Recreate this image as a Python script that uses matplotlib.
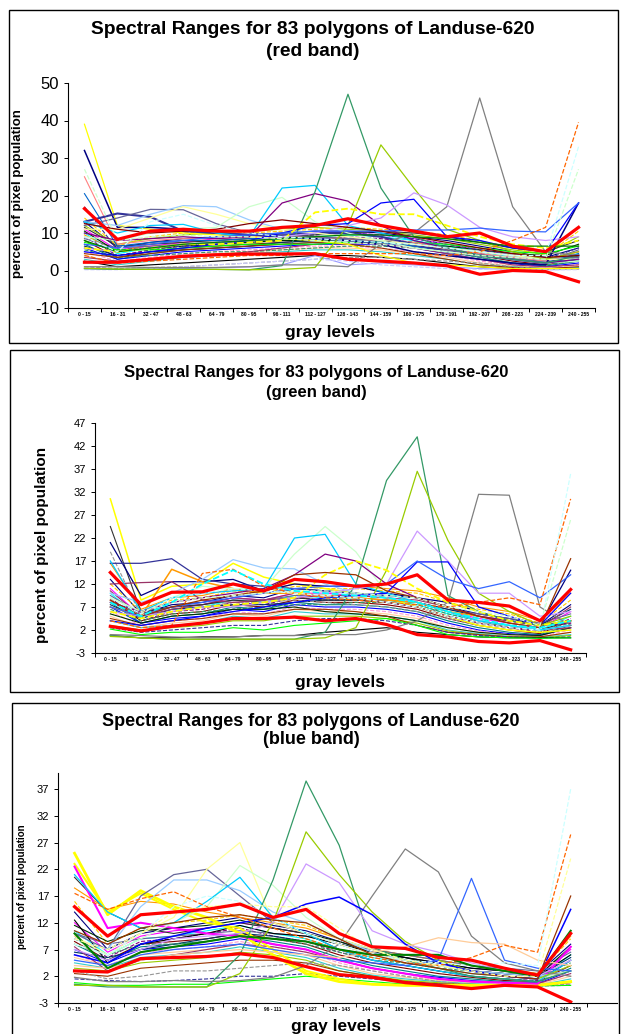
import matplotlib
matplotlib.use("Agg")
import matplotlib.pyplot as plt
from matplotlib.patches import Rectangle
import numpy as np

plt.rcParams['font.family'] = ['Liberation Sans', 'DejaVu Sans']
plt.rcParams['axes.unicode_minus'] = False

W, H = 622, 1034

categories = ["0 - 15", "16 - 31", "32 - 47", "48 - 63", "64 - 79", "80 - 95", "96 - 111",
              "112 - 127", "128 - 143", "144 - 159", "160 - 175", "176 - 191", "192 - 207",
              "208 - 223", "224 - 239", "240 - 255"]

# ---------------- red band ----------------
red_upper = [16.5, 8.3, 10.5, 11.0, 10.5, 10.5, 11.5, 12.0, 13.8, 12.0, 10.5, 9.0, 10.0, 6.5, 5.0, 11.5]
red_lower = [2.2, 2.2, 3.0, 3.8, 4.2, 4.4, 4.4, 4.5, 3.0, 2.5, 2.0, 1.3, -1.0, 0.0, -0.3, -3.0]
red_hl = [
    [39.0, 12.0, 11.0, 10.0, 9.5, 9.0, 8.5, 8.0, 7.0, 4.0, 2.0, 1.5, 1.0, 0.5, 0.5, 0.5],     # yellow
    [32.0, 11.5, 11.5, 11.0, 10.0, 9.5, 9.0, 8.5, 8.0, 7.0, 5.0, 4.0, 3.0, 2.0, 1.5, 18.0],   # navy
    [13.0, 15.2, 14.3, 10.5, 10.0, 9.5, 9.5, 10.0, 10.0, 9.0, 7.0, 5.0, 4.0, 3.0, 2.0, 4.0],   # dark slate
    [12.0, 14.0, 16.3, 16.2, 12.5, 10.0, 9.5, 9.0, 8.5, 8.0, 7.0, 6.0, 5.0, 4.0, 3.0, 3.5],   # blue gray
    [13.0, 12.0, 15.0, 17.3, 17.0, 13.5, 11.0, 10.0, 9.0, 8.0, 7.0, 6.0, 5.0, 4.0, 3.0, 3.0], # pale blue
    [11.0, 11.0, 14.0, 17.0, 15.0, 12.5, 11.0, 10.0, 9.0, 8.0, 7.0, 6.0, 5.0, 4.0, 3.0, 3.0], # light yellow
    [9.0, 8.0, 10.0, 11.0, 11.5, 17.0, 19.5, 13.0, 10.0, 8.0, 6.0, 5.0, 4.0, 3.0, 2.0, 2.5],  # light green
    [13.0, 10.0, 12.0, 12.3, 10.0, 9.0, 22.0, 22.7, 12.0, 10.0, 8.0, 6.0, 4.0, 3.0, 2.0, 3.0],# sky
    [10.0, 8.0, 8.5, 9.0, 8.5, 9.0, 18.0, 20.5, 18.5, 12.0, 8.0, 6.0, 4.0, 3.0, 2.0, 3.0],    # purple
    [0.5, 0.3, 0.3, 0.3, 0.3, 0.2, 1.3, 21.0, 47.0, 22.0, 9.0, 6.0, 4.0, 3.0, 2.0, 4.0],      # sea green
    [0.6, 0.4, 0.3, 0.3, 0.3, 0.2, 0.3, 0.8, 12.0, 33.5, 22.0, 11.0, 8.0, 5.0, 3.0, 5.0],     # lime
    [1.0, 1.0, 0.8, 0.8, 0.8, 1.0, 1.5, 1.5, 1.0, 7.0, 10.0, 17.0, 46.0, 17.0, 5.0, 4.0],     # gray
    [6.0, 5.0, 6.0, 7.0, 7.5, 8.0, 9.0, 10.0, 12.0, 14.0, 20.7, 17.5, 11.5, 9.0, 8.0, 9.0],   # lavender
    [5.0, 4.0, 5.0, 6.0, 7.0, 8.0, 10.0, 12.0, 12.5, 18.0, 19.0, 9.0, 8.0, 6.0, 5.0, 18.0],   # blue
    [7.0, 6.0, 7.0, 8.0, 9.0, 9.5, 10.0, 10.5, 10.5, 10.5, 10.8, 10.8, 11.3, 10.5, 10.3, 18.0],# royal blue
    [4.0, 2.0, 2.5, 3.0, 3.5, 4.0, 4.0, 4.5, 4.5, 4.5, 4.5, 4.0, 5.0, 8.0, 11.5, 39.5],      # orange dashed
    [6.0, 5.0, 6.0, 7.0, 7.0, 7.5, 8.0, 15.5, 16.5, 15.0, 15.0, 12.0, 9.0, 7.0, 6.0, 8.0],   # yellow dashed
    [12.5, 11.0, 10.0, 10.5, 11.0, 12.5, 13.5, 12.5, 11.5, 10.5, 9.0, 7.5, 6.0, 4.5, 3.5, 4.0],# maroon
    [8.0, 5.0, 6.0, 7.0, 7.5, 8.0, 8.5, 9.0, 9.5, 9.5, 9.0, 8.5, 7.5, 6.5, 6.5, 6.5],        # dark green
    [9.0, 5.0, 13.0, 15.0, 12.0, 10.0, 9.0, 8.5, 8.0, 7.5, 7.0, 6.0, 5.0, 4.0, 4.0, 33.0],    # light cyan dashed
    [27.0, 8.0, 9.0, 9.5, 9.0, 9.0, 8.5, 8.0, 7.5, 7.0, 6.0, 5.0, 4.0, 3.5, 3.0, 27.0],      # light green dashed
]
red_bulk = [
    [13.0, 6.0, 7.5, 8.5, 9.0, 9.5, 10.0, 10.5, 10.5, 10.0, 9.0, 8.0, 6.5, 5.0, 3.5, 6.0],
    [11.0, 5.5, 6.5, 7.5, 8.5, 9.0, 9.5, 10.0, 10.0, 9.5, 8.5, 7.0, 5.5, 4.0, 3.0, 5.0],
    [10.0, 4.5, 6.0, 7.0, 7.5, 8.0, 8.5, 9.0, 9.5, 9.0, 8.0, 6.5, 5.0, 3.5, 2.5, 4.5],
    [9.0, 4.0, 5.5, 6.5, 7.0, 7.5, 8.0, 8.5, 9.0, 8.5, 7.5, 6.0, 4.5, 3.0, 2.0, 4.0],
    [8.0, 3.5, 5.0, 6.0, 6.5, 7.0, 7.5, 8.0, 8.5, 8.0, 7.0, 5.5, 4.0, 2.5, 1.5, 3.0],
    [7.0, 3.0, 4.5, 5.5, 6.0, 6.5, 7.0, 7.5, 8.0, 7.5, 6.5, 5.0, 3.5, 2.0, 1.2, 2.5],
    [6.0, 3.0, 4.0, 5.0, 5.5, 6.0, 6.5, 7.0, 7.0, 7.0, 6.0, 4.5, 3.0, 1.8, 1.0, 2.0],
    [5.0, 2.5, 3.5, 4.5, 5.0, 5.5, 6.0, 6.5, 6.5, 6.0, 5.0, 4.0, 2.5, 1.5, 0.8, 1.5],
    [4.0, 2.0, 3.0, 4.0, 4.5, 5.0, 5.5, 6.0, 6.0, 5.5, 4.5, 3.5, 2.0, 1.2, 0.6, 1.0],
    [3.0, 1.5, 2.5, 3.5, 4.0, 4.5, 5.0, 5.5, 5.5, 5.0, 4.0, 3.0, 1.5, 1.0, 0.5, 0.8],
    [12.0, 7.0, 8.5, 9.5, 10.0, 10.5, 11.0, 11.5, 11.0, 10.5, 9.5, 8.5, 7.0, 5.5, 4.5, 9.0],
    [14.0, 6.5, 9.0, 10.0, 10.5, 10.0, 10.5, 11.0, 11.5, 11.0, 10.5, 9.5, 8.0, 6.0, 4.0, 10.5],
    [9.5, 5.0, 7.0, 8.0, 8.0, 8.5, 9.0, 9.0, 8.5, 8.0, 7.0, 6.0, 5.0, 4.0, 3.0, 3.5],
    [8.5, 6.0, 6.5, 7.0, 7.5, 8.0, 8.0, 8.5, 8.0, 7.5, 6.5, 5.5, 4.0, 3.0, 2.5, 5.5],
    [6.5, 4.0, 5.0, 5.5, 6.0, 6.5, 7.5, 8.0, 8.5, 8.0, 7.0, 6.0, 4.5, 3.0, 2.0, 3.5],
    [5.5, 3.5, 4.0, 4.5, 5.0, 5.0, 5.5, 6.0, 6.5, 6.5, 6.0, 5.0, 3.5, 2.0, 1.5, 2.5],
    [10.5, 5.0, 6.0, 6.5, 7.0, 7.5, 8.0, 8.0, 8.0, 7.5, 7.0, 6.5, 5.5, 4.5, 4.0, 7.0],
    [4.5, 3.5, 4.5, 5.5, 6.0, 6.5, 7.0, 7.5, 7.0, 6.0, 4.5, 3.0, 1.5, 0.8, 0.5, 1.0],
    [3.5, 2.5, 3.0, 3.5, 4.0, 5.0, 6.0, 7.0, 7.5, 7.0, 6.0, 4.5, 3.0, 1.5, 1.0, 1.5],
    [17.0, 5.5, 6.0, 6.5, 7.5, 8.0, 9.0, 9.5, 10.0, 9.5, 8.5, 7.0, 5.5, 4.0, 3.0, 6.0],
    [11.5, 6.5, 7.0, 7.5, 8.0, 8.5, 9.0, 9.5, 10.0, 10.5, 10.0, 9.0, 7.5, 6.0, 5.0, 8.0],
    [2.5, 1.0, 1.5, 2.0, 2.5, 3.0, 3.5, 4.0, 4.0, 3.5, 3.0, 2.0, 1.0, 0.5, 0.3, 0.5],
    [7.5, 5.5, 5.5, 6.0, 6.5, 7.0, 7.0, 7.0, 7.5, 7.5, 7.5, 7.0, 6.0, 5.0, 4.5, 6.5],
    [1.0, 0.5, 0.8, 1.0, 1.5, 2.0, 2.5, 3.0, 3.5, 3.5, 3.0, 2.5, 2.0, 1.0, 0.5, 0.3],
    [0.5, 0.3, 0.5, 0.5, 0.8, 1.0, 1.5, 4.0, 1.5, 2.0, 1.5, 1.0, 0.5, 0.3, 0.2, 0.3],
    [25.0, 7.0, 8.0, 8.5, 8.5, 9.0, 9.0, 9.0, 8.5, 8.0, 7.5, 6.0, 4.5, 3.5, 2.5, 5.0],
    [20.5, 6.5, 7.5, 8.0, 8.0, 8.5, 8.5, 8.5, 8.0, 7.5, 6.5, 5.0, 4.0, 3.0, 2.0, 4.5],
    [0.2, 0.2, 0.5, 1.0, 1.5, 2.0, 2.5, 3.0, 2.5, 1.5, 1.0, 0.5, 0.3, 0.2, 0.2, 0.2],
]

# ---------------- green band ----------------
green_upper = [14.5, 7.5, 10.2, 10.3, 12.0, 10.5, 13.0, 12.5, 11.5, 12.0, 14.0, 8.5, 8.0, 7.2, 4.0, 10.8]
green_lower = [2.8, 1.8, 2.8, 3.5, 4.5, 4.5, 4.8, 4.0, 4.5, 3.2, 1.0, 0.5, -0.5, -0.8, -0.3, -2.3]
green_hl = [
    [30.5, 8.5, 11.5, 12.0, 16.5, 13.5, 12.0, 11.0, 10.0, 9.0, 7.0, 5.0, 3.0, 2.0, 1.5, 2.0],   # yellow
    [21.0, 9.5, 12.5, 12.5, 13.0, 10.5, 12.0, 11.5, 11.5, 10.0, 9.0, 8.0, 6.0, 4.0, 3.0, 15.0], # navy
    [16.5, 16.5, 17.5, 13.0, 12.0, 11.5, 11.0, 10.5, 10.0, 9.0, 8.0, 6.0, 4.0, 3.0, 2.0, 3.0],  # blue gray
    [12.0, 12.3, 12.5, 8.5, 8.0, 8.5, 9.0, 9.5, 9.0, 8.0, 7.0, 5.0, 3.5, 2.5, 2.0, 2.5],       # plum
    [10.0, 8.0, 10.0, 13.0, 17.3, 15.5, 15.3, 12.0, 10.0, 9.0, 8.0, 6.0, 4.0, 3.0, 2.0, 3.0],  # pale blue
    [7.0, 5.0, 15.2, 12.5, 11.0, 10.0, 10.0, 9.5, 9.0, 8.5, 8.0, 6.0, 5.0, 4.0, 3.0, 4.0],     # orange
    [9.0, 6.0, 9.0, 11.5, 11.0, 11.0, 18.5, 24.5, 19.0, 10.0, 8.0, 6.0, 4.0, 3.0, 2.0, 3.0],   # purple
    [17.0, 6.0, 9.0, 10.0, 10.5, 11.0, 22.0, 22.8, 12.0, 10.0, 8.0, 6.0, 4.0, 3.0, 2.0, 3.0],  # sky
    [8.0, 6.0, 8.0, 9.0, 10.0, 11.0, 14.0, 18.5, 17.0, 12.0, 9.0, 7.0, 5.0, 4.0, 3.0, 3.5],    # light green
    [0.8, 0.3, 0.0, 0.0, 0.0, 0.0, 0.0, 1.5, 12.0, 34.5, 44.0, 9.5, 6.0, 4.0, 3.0, 4.0],       # sea green
    [0.6, 0.3, 0.0, 0.0, 0.0, 0.0, 0.0, 0.3, 2.5, 15.0, 36.5, 21.5, 10.0, 6.0, 3.0, 5.0],      # lime
    [1.0, 0.8, 0.5, 0.3, 0.5, 0.8, 0.8, 1.0, 1.0, 2.0, 4.0, 8.0, 31.5, 31.3, 7.0, 3.0],        # gray
    [6.0, 5.0, 6.0, 7.0, 7.0, 8.0, 9.0, 10.0, 11.0, 12.0, 23.5, 17.0, 10.0, 10.0, 5.0, 6.0],   # lavender
    [4.0, 3.0, 4.0, 5.0, 6.0, 7.0, 8.0, 9.0, 9.5, 10.0, 16.8, 16.8, 7.0, 5.0, 3.0, 10.0],      # blue
    [7.0, 5.0, 7.0, 8.0, 9.0, 10.0, 11.0, 11.5, 11.5, 12.0, 17.0, 13.0, 11.0, 12.5, 9.0, 14.0],# royal blue
    [4.0, 2.5, 3.0, 14.3, 15.2, 11.5, 10.0, 9.0, 8.5, 8.0, 7.5, 7.0, 8.0, 9.0, 7.5, 30.5],     # orange dashed
    [9.0, 5.5, 9.0, 10.0, 11.0, 10.5, 10.0, 9.5, 9.0, 8.0, 7.0, 5.0, 3.5, 2.5, 2.0, 36.0],     # light cyan dashed
    [6.0, 4.5, 6.0, 7.0, 7.5, 8.0, 9.0, 14.0, 17.0, 15.0, 11.0, 8.0, 6.0, 4.0, 3.0, 4.0],      # yellow dashed
    [8.5, 5.0, 7.0, 8.5, 9.5, 10.5, 14.0, 14.5, 14.0, 10.5, 9.0, 7.0, 5.0, 3.5, 2.5, 17.5],    # maroon
    [9.0, 6.0, 8.0, 9.0, 9.5, 10.0, 10.5, 10.5, 10.0, 9.5, 9.0, 7.0, 6.0, 5.0, 3.0, 26.0],     # light green dashed
    [8.0, 5.0, 8.0, 12.0, 15.0, 12.0, 10.5, 10.0, 9.5, 9.0, 8.0, 6.0, 4.5, 3.0, 2.5, 4.0],     # cyan dashed
]
green_bulk = [
    [13.0, 5.5, 7.5, 8.0, 9.5, 9.0, 11.0, 10.5, 10.0, 9.5, 9.0, 7.0, 5.5, 4.5, 3.0, 7.5],
    [11.0, 5.0, 7.0, 7.5, 9.0, 8.5, 10.0, 10.0, 9.5, 9.0, 8.0, 6.0, 4.5, 3.5, 2.5, 6.0],
    [10.0, 4.5, 6.5, 7.0, 8.5, 8.0, 9.5, 9.0, 9.0, 8.5, 7.5, 5.5, 4.0, 3.0, 2.0, 5.0],
    [9.0, 4.0, 6.0, 6.5, 8.0, 7.5, 9.0, 8.5, 8.5, 8.0, 7.0, 5.0, 3.5, 2.5, 1.5, 4.5],
    [8.5, 4.0, 5.5, 6.0, 7.5, 7.0, 8.5, 8.0, 8.0, 7.5, 6.5, 4.5, 3.0, 2.0, 1.2, 4.0],
    [8.0, 3.5, 5.0, 5.5, 7.0, 6.5, 8.0, 7.5, 7.5, 7.0, 6.0, 4.0, 2.5, 1.5, 1.0, 3.0],
    [7.0, 3.5, 4.5, 5.0, 6.5, 6.0, 7.5, 7.0, 7.0, 6.5, 5.5, 3.5, 2.0, 1.2, 0.8, 2.5],
    [6.0, 3.0, 4.0, 4.5, 6.0, 5.5, 7.0, 6.5, 6.5, 6.0, 5.0, 3.0, 1.8, 1.0, 0.6, 2.0],
    [5.0, 2.5, 3.5, 4.0, 5.5, 5.0, 6.5, 6.0, 6.0, 5.5, 4.5, 2.5, 1.5, 0.8, 0.5, 1.5],
    [4.0, 2.5, 3.0, 3.5, 5.0, 4.5, 6.0, 5.5, 5.5, 5.0, 4.0, 2.0, 1.2, 0.6, 0.4, 1.0],
    [3.0, 2.0, 2.5, 3.0, 4.0, 4.0, 5.0, 5.0, 5.0, 4.5, 3.5, 1.8, 1.0, 0.5, 0.3, 0.8],
    [12.0, 6.0, 8.5, 9.0, 10.5, 10.0, 11.5, 11.0, 11.0, 10.5, 10.0, 8.0, 6.5, 5.5, 3.5, 8.5],
    [16.5, 6.5, 9.0, 9.5, 11.0, 10.5, 12.0, 11.5, 11.5, 11.0, 10.5, 9.0, 7.0, 6.0, 4.0, 10.0],
    [9.5, 5.5, 7.0, 7.5, 8.5, 8.5, 9.5, 9.5, 9.0, 8.5, 8.0, 6.5, 5.5, 4.5, 3.5, 5.5],
    [7.5, 4.5, 6.5, 7.0, 7.5, 7.5, 8.0, 8.5, 8.5, 8.5, 8.0, 6.5, 5.0, 4.0, 3.0, 6.5],
    [6.5, 4.0, 5.5, 6.0, 6.5, 7.0, 7.5, 7.5, 8.0, 8.0, 7.5, 5.5, 4.0, 2.5, 2.0, 3.5],
    [5.5, 3.5, 5.0, 5.5, 6.5, 6.5, 7.0, 6.0, 5.5, 5.0, 4.0, 2.5, 1.5, 1.0, 0.8, 2.5],
    [4.5, 3.0, 4.0, 4.5, 5.5, 5.5, 6.5, 6.5, 6.0, 5.0, 3.0, 1.5, 1.0, 0.5, 0.5, 1.5],
    [10.5, 5.0, 6.5, 7.5, 9.0, 8.5, 10.0, 9.5, 9.5, 9.0, 8.5, 7.0, 5.0, 3.5, 2.5, 7.0],
    [2.5, 1.5, 2.0, 2.5, 3.0, 3.0, 4.0, 4.5, 4.5, 4.0, 3.0, 1.5, 0.8, 0.5, 0.3, 0.5],
    [24.5, 6.0, 7.0, 7.5, 8.5, 8.0, 9.0, 8.5, 8.5, 8.0, 7.0, 5.0, 3.5, 2.5, 2.0, 4.0],
    [0.8, 0.3, 0.3, 0.5, 0.5, 0.8, 0.8, 1.5, 2.0, 2.5, 1.5, 1.0, 0.5, 0.3, 0.3, 0.3],
    [2.2, 1.0, 1.5, 1.5, 2.5, 2.0, 3.0, 3.5, 4.0, 4.5, 3.0, 1.0, 0.5, 0.3, 0.2, 0.3],
    [19.0, 5.0, 6.0, 7.0, 8.0, 8.0, 8.5, 8.0, 7.5, 7.0, 6.0, 4.5, 3.0, 2.0, 1.5, 3.0],
]

# ---------------- blue band ----------------
blue_upper = [15.0, 9.5, 13.5, 14.0, 14.5, 15.5, 13.0, 14.5, 10.0, 7.5, 7.2, 5.5, 5.0, 3.5, 2.2, 10.0]
blue_lower = [3.0, 2.8, 5.3, 5.5, 5.7, 6.2, 5.5, 3.8, 2.3, 1.8, 0.8, 0.3, -0.3, 0.3, 0.0, -2.8]
blue_hl = [
    [25.0, 13.5, 18.0, 15.0, 13.0, 10.0, 6.0, 2.5, 1.0, 0.5, 0.3, 0.3, 0.3, 0.3, 0.3, 1.0],     # yellow
    [23.0, 14.0, 17.5, 14.5, 12.0, 11.0, 7.0, 3.0, 1.5, 0.5, 0.3, 0.3, 0.3, 0.3, 0.3, 1.0],     # yellow 2
    [22.5, 11.0, 12.0, 11.0, 10.0, 9.5, 8.0, 7.0, 5.0, 3.5, 2.5, 1.5, 1.0, 0.8, 0.6, 7.5],      # magenta
    [10.0, 7.0, 17.0, 21.0, 22.0, 17.0, 12.0, 10.0, 8.0, 6.0, 5.0, 4.0, 3.0, 2.5, 2.0, 3.0],    # pale blue
    [9.0, 7.0, 15.0, 20.0, 20.0, 18.0, 14.0, 12.0, 9.0, 6.5, 5.0, 4.0, 3.0, 2.5, 2.0, 3.0],     # light yellow
    [9.5, 6.0, 10.0, 13.0, 22.0, 27.0, 12.0, 10.0, 8.0, 6.0, 5.0, 4.0, 3.0, 2.0, 1.5, 3.0],     # sky
    [8.0, 6.0, 9.0, 12.0, 15.0, 22.7, 19.0, 13.0, 9.0, 7.0, 5.0, 4.0, 3.0, 2.0, 1.5, 3.0],      # light green
    [21.0, 14.0, 11.0, 12.0, 16.0, 20.5, 13.0, 10.0, 7.0, 5.0, 4.0, 3.0, 2.0, 1.5, 1.0, 5.0],   # purple
    [0.5, 0.0, 0.0, 0.0, 0.0, 6.0, 20.0, 38.5, 26.5, 7.5, 5.0, 3.5, 2.0, 1.5, 1.0, 3.0],        # sea green
    [0.3, 0.3, 0.0, 0.0, 0.0, 2.5, 12.0, 29.0, 21.0, 14.0, 8.5, 5.0, 3.0, 2.0, 1.5, 4.0],       # lime
    [1.8, 1.0, 1.0, 1.2, 1.0, 1.2, 1.8, 4.0, 8.0, 17.0, 25.8, 21.5, 9.5, 4.5, 3.0, 2.0],        # gray
    [7.0, 5.0, 7.0, 9.0, 9.5, 10.0, 12.0, 23.0, 19.5, 10.5, 8.0, 6.5, 4.5, 3.0, 2.0, 5.0],      # lavender
    [6.0, 4.5, 8.0, 9.5, 11.0, 12.0, 13.0, 15.5, 16.8, 13.5, 8.0, 4.5, 3.0, 2.0, 1.5, 14.5],    # blue
    [5.0, 4.0, 6.0, 7.0, 7.5, 8.0, 7.0, 6.0, 5.0, 4.5, 4.0, 5.0, 20.3, 5.0, 3.5, 3.0],          # royal blue
    [4.0, 3.5, 5.0, 6.0, 6.5, 7.0, 6.5, 6.0, 5.5, 6.5, 7.5, 9.2, 8.3, 8.0, 5.0, 4.0],           # tan
    [17.5, 14.5, 16.5, 17.8, 15.0, 13.0, 11.0, 9.0, 7.0, 5.5, 4.5, 4.0, 5.5, 7.8, 6.5, 28.5],   # orange dashed
    [8.0, 6.0, 10.0, 15.0, 17.0, 16.0, 13.0, 10.0, 8.0, 6.0, 5.0, 4.5, 4.0, 4.5, 4.0, 37.0],    # light cyan dashed
    [10.0, 3.5, 6.5, 7.5, 8.5, 9.5, 9.0, 8.5, 7.0, 6.0, 6.0, 6.0, 4.0, 3.0, 2.0, 10.5],          # green
    [10.5, 8.0, 11.0, 12.0, 13.0, 13.5, 12.5, 12.0, 9.0, 6.0, 4.5, 3.5, 2.5, 2.0, 1.5, 17.0],   # brown
    [9.0, 7.0, 10.0, 14.0, 15.0, 15.5, 15.0, 15.0, 11.0, 7.0, 5.0, 4.0, 3.0, 2.0, 2.0, 24.0],   # light yellow dashed
]
blue_bulk = [
    [14.0, 7.0, 10.0, 11.0, 12.0, 13.0, 11.5, 10.5, 8.5, 6.5, 5.5, 4.5, 3.5, 3.0, 2.5, 8.0],
    [12.0, 6.5, 9.5, 10.5, 11.0, 12.0, 11.0, 10.0, 8.0, 6.0, 5.0, 4.0, 3.0, 2.5, 2.0, 7.0],
    [10.5, 6.0, 9.0, 9.5, 10.5, 11.5, 10.0, 9.0, 7.0, 5.5, 4.5, 3.5, 2.5, 2.0, 1.5, 6.0],
    [9.5, 5.5, 8.5, 9.0, 10.0, 11.0, 9.5, 8.5, 6.5, 5.0, 4.0, 3.0, 2.0, 1.5, 1.2, 5.0],
    [8.5, 5.0, 8.0, 8.5, 9.0, 10.0, 9.0, 8.0, 6.0, 4.5, 3.5, 2.5, 1.8, 1.2, 1.0, 4.0],
    [8.0, 5.0, 7.5, 8.0, 8.5, 9.5, 8.5, 7.5, 5.5, 4.0, 3.0, 2.0, 1.5, 1.0, 0.8, 3.5],
    [7.0, 4.5, 7.0, 7.5, 8.0, 9.0, 8.0, 7.0, 5.0, 3.5, 2.5, 1.8, 1.2, 0.8, 0.6, 3.0],
    [6.0, 4.0, 6.5, 7.0, 7.5, 8.5, 7.5, 6.5, 4.5, 3.0, 2.0, 1.5, 1.0, 0.6, 0.5, 2.5],
    [5.5, 4.0, 6.0, 6.5, 7.0, 8.0, 7.0, 6.0, 4.0, 2.5, 1.8, 1.2, 0.8, 0.5, 0.4, 2.0],
    [4.5, 3.5, 5.5, 6.0, 6.5, 7.5, 6.5, 5.5, 3.5, 2.2, 1.5, 1.0, 0.6, 0.4, 0.3, 1.5],
    [3.5, 3.0, 4.5, 5.0, 5.5, 6.5, 6.0, 5.0, 3.0, 2.0, 1.2, 0.8, 0.5, 0.3, 0.3, 1.0],
    [16.0, 8.0, 11.0, 12.0, 12.5, 13.5, 12.5, 11.5, 9.0, 7.0, 6.0, 5.0, 4.0, 3.0, 2.5, 9.0],
    [18.5, 14.5, 16.0, 15.5, 14.0, 13.0, 12.0, 11.0, 9.0, 7.0, 6.0, 5.0, 4.0, 3.5, 2.5, 9.5],
    [10.0, 8.0, 9.0, 9.5, 10.0, 10.5, 10.0, 9.5, 8.0, 7.0, 6.0, 5.0, 4.0, 3.5, 3.0, 6.5],
    [6.5, 5.5, 7.0, 8.0, 9.0, 10.0, 9.5, 8.5, 7.0, 6.0, 5.0, 4.0, 3.0, 2.5, 2.0, 5.5],
    [9.0, 6.0, 8.0, 8.0, 8.5, 9.5, 9.0, 8.0, 6.5, 5.0, 4.5, 3.5, 3.0, 2.5, 2.0, 4.5],
    [11.5, 8.5, 10.5, 11.0, 11.5, 12.5, 11.0, 10.0, 8.5, 6.5, 5.5, 4.0, 3.0, 2.5, 2.0, 7.5],
    [2.5, 2.0, 3.5, 4.0, 4.5, 5.0, 5.0, 4.5, 3.0, 2.0, 1.0, 0.6, 0.4, 0.3, 0.3, 0.8],
    [7.5, 3.0, 5.0, 6.0, 7.0, 8.0, 7.5, 6.5, 5.0, 3.5, 2.5, 1.5, 1.0, 0.8, 0.6, 2.5],
    [1.5, 1.2, 1.0, 1.2, 1.5, 2.0, 2.0, 2.5, 2.0, 1.5, 1.0, 0.5, 0.3, 0.3, 0.2, 0.3],
    [20.5, 14.0, 11.0, 10.0, 11.0, 12.0, 11.0, 10.0, 7.0, 5.0, 4.0, 3.0, 2.0, 1.5, 1.0, 5.0],
    [12.5, 4.5, 8.0, 9.0, 10.0, 11.5, 10.0, 9.5, 8.0, 6.5, 5.5, 4.5, 3.5, 3.0, 2.0, 6.0],
    [0.8, 0.3, 0.3, 0.5, 0.5, 1.0, 1.5, 2.0, 1.5, 1.0, 0.5, 0.3, 0.2, 0.2, 0.2, 0.3],
    [3.0, 1.5, 2.0, 3.0, 3.0, 3.5, 4.0, 4.5, 4.0, 3.0, 2.0, 1.0, 0.5, 0.3, 0.3, 0.5],
]

# ---------------- styles ----------------
hl_colors = ['#FFFF00', '#000080', '#333399', '#666699', '#99CCFF', '#FFFF99', '#CCFFCC',
             '#00CCFF', '#800080', '#339966', '#99CC00', '#808080', '#CC99FF', '#0000FF',
             '#3366FF', '#FF6600', '#FFCC00', '#800000', '#008000', '#CCFFFF', '#99FF99']
palette = ['#000080', '#FF00FF', '#00FFFF', '#800080', '#800000', '#008080', '#0000FF',
           '#FF99CC', '#FFCC99', '#33CCCC', '#99CC00', '#FFCC00', '#FF9900', '#666699',
           '#003366', '#339966', '#003300', '#993300', '#993366', '#333399', '#333333',
           '#000000', '#00FF00', '#969696', '#9999FF', '#FF8080', '#0066CC', '#CCCCFF']


def px_ax(l, t, r, b):
    return fig.add_axes([l / W, 1 - b / H, (r - l) / W, (b - t) / H])


def draw_panel(ax, bulk, hl, upper, lower, hl_styles, xmax):
    x = np.arange(len(categories))
    for i, s in enumerate(bulk):
        ls = '--' if i % 4 == 3 else '-'
        ax.plot(x, s, color=palette[i % len(palette)], lw=0.8, ls=ls, zorder=2)
    for i, s in enumerate(hl):
        c, ls, lw = hl_styles[i]
        ax.plot(x, s, color=c, lw=lw, ls=ls, zorder=3)
    ax.plot(x, upper, color='#FF0000', lw=2.3, zorder=5)
    ax.plot(x, lower, color='#FF0000', lw=2.3, zorder=5)
    ax.set_xlim(-0.5, xmax)
    ax.set_xticks(np.arange(-0.5, xmax + 0.01, 1.0))
    ax.set_xticklabels([])
    ax.set_xticks(x, minor=True)
    ax.set_xticklabels(categories, minor=True, fontsize=3.6, fontweight='bold')
    ax.tick_params(axis='x', which='major', length=3, width=0.7, direction='out')
    ax.tick_params(axis='x', which='minor', length=0, pad=3)
    ax.tick_params(axis='y', length=3, width=0.7, direction='out')
    for sp in ['top', 'right']:
        ax.spines[sp].set_visible(False)
    for sp in ['left', 'bottom']:
        ax.spines[sp].set_linewidth(0.8)
    ax.set_facecolor('none')


def style_list(colors):
    return [(c, '-', 0.9) for c in colors]


fig = plt.figure(figsize=(W / 100, H / 100), dpi=100)

# panel frames
for (l, t, r, b) in [(9, 10, 618, 343), (10, 350, 619, 692), (12, 703, 619, 1040)]:
    fig.add_artist(Rectangle((l / W, 1 - b / H), (r - l) / W, (b - t) / H,
                             transform=fig.transFigure, fill=False, ec='black', lw=1.0))

# red band
red_styles = style_list(hl_colors[:len(red_hl)])
red_styles[15] = ('#FF6600', '--', 0.9)
red_styles[16] = ('#FFFF00', '--', 1.3)
red_styles[19] = ('#CCFFFF', '--', 0.9)
red_styles[20] = ('#CCFFCC', '--', 0.9)
red_styles[1] = ('#000080', '-', 1.1)
red_styles[2] = ('#333399', '-', 1.5)
ax1 = px_ax(68, 83, 595, 308)
draw_panel(ax1, red_bulk, red_hl, red_upper, red_lower, red_styles, 15.5)
ax1.set_ylim(-10, 50)
ax1.set_yticks(np.arange(-10, 51, 10))
ax1.tick_params(axis='y', labelsize=12)
fig.text(313 / W, 1 - 30 / H, "Spectral Ranges for 83 polygons of Landuse-620", ha='center', va='center',
         fontsize=13.8, fontweight='bold')
fig.text(313 / W, 1 - 51 / H, "(red band)", ha='center', va='center', fontsize=13.8, fontweight='bold')
fig.text(18 / W, 1 - 194 / H, "percent of pixel population", rotation=90, ha='center', va='center',
         fontsize=9.5, fontweight='bold')
fig.text(330 / W, 1 - 333 / H, "gray levels", ha='center', va='center', fontsize=12.5, fontweight='bold')

# green band
green_styles = style_list(hl_colors[:len(green_hl)])
green_styles[15] = ('#FF6600', '--', 0.9)
green_styles[16] = ('#CCFFFF', '--', 0.9)
green_styles[17] = ('#FFFF00', '--', 1.3)
green_styles[18] = ('#993300', '-', 0.9)
green_styles[19] = ('#CCFFCC', '--', 0.9)
green_styles[20] = ('#00FFFF', '--', 1.3)
green_styles[3] = ('#993366', '-', 0.9)
green_styles[5] = ('#FF9900', '-', 1.1)
green_styles[0] = ('#FFFF00', '-', 1.1)
ax2 = px_ax(95, 423, 586, 653)
draw_panel(ax2, green_bulk, green_hl, green_upper, green_lower, green_styles, 15.5)
ax2.set_ylim(-3, 47)
ax2.set_yticks(np.arange(-3, 48, 5))
ax2.tick_params(axis='y', labelsize=8)
fig.text(316 / W, 1 - 372 / H, "Spectral Ranges for 83 polygons of Landuse-620", ha='center', va='center',
         fontsize=12, fontweight='bold')
fig.text(316 / W, 1 - 392 / H, "(green band)", ha='center', va='center', fontsize=12, fontweight='bold')
fig.text(42 / W, 1 - 545 / H, "percent of pixel population", rotation=90, ha='center', va='center',
         fontsize=11, fontweight='bold')
fig.text(340 / W, 1 - 682 / H, "gray levels", ha='center', va='center', fontsize=12.5, fontweight='bold')

# blue band
blue_styles = style_list(hl_colors[:len(blue_hl)])
blue_styles[0] = ('#FFFF00', '-', 2.0)
blue_styles[1] = ('#FFFF00', '-', 1.5)
blue_styles[2] = ('#FF00FF', '-', 1.5)
blue_styles[10] = ('#808080', '-', 0.9)
blue_styles[11] = ('#CC99FF', '-', 0.9)
blue_styles[12] = ('#0000FF', '-', 1.1)
blue_styles[13] = ('#3366FF', '-', 0.9)
blue_styles[14] = ('#FFCC99', '-', 0.9)
blue_styles[15] = ('#FF6600', '--', 0.9)
blue_styles[16] = ('#CCFFFF', '--', 0.9)
blue_styles[17] = ('#008000', '-', 1.5)
blue_styles[18] = ('#993300', '-', 0.9)
blue_styles[19] = ('#FFFF99', '--', 0.9)
blue_styles[8] = ('#339966', '-', 0.9)
blue_styles[9] = ('#99CC00', '-', 0.9)
ax3 = px_ax(58, 773, 617, 1003)
draw_panel(ax3, blue_bulk, blue_hl, blue_upper, blue_lower, blue_styles, 16.4)
ax3.set_ylim(-3, 40)
ax3.set_yticks(np.arange(-3, 38, 5))
ax3.tick_params(axis='y', labelsize=8)
fig.text(311 / W, 1 - 722 / H, "Spectral Ranges for 83 polygons of Landuse-620", ha='center', va='center',
         fontsize=13, fontweight='bold')
fig.text(311 / W, 1 - 740 / H, "(blue band)", ha='center', va='center', fontsize=13, fontweight='bold')
fig.text(22 / W, 1 - 887 / H, "percent of pixel population", rotation=90, ha='center', va='center',
         fontsize=7, fontweight='bold')
fig.text(336 / W, 1 - 1027 / H, "gray levels", ha='center', va='center', fontsize=12.5, fontweight='bold')

fig.savefig("out.png", dpi=100, facecolor='white')
